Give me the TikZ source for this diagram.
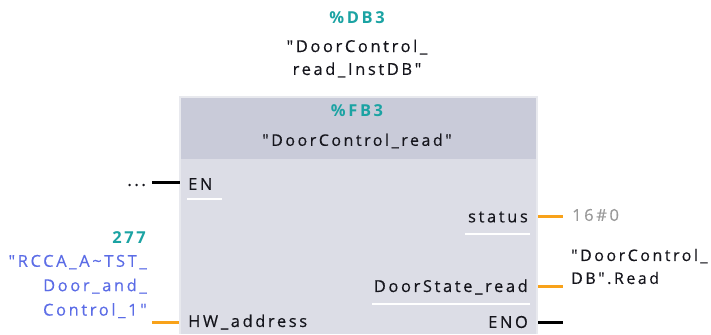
\documentclass[tikz,border=0pt]{standalone}
\usepackage{fontspec}
\defaultfontfeatures[\rmfamily,\sffamily]{}
\setmainfont{Open Sans}[LetterSpace=16, FakeBold=0.4, BoldFeatures={FakeBold=0}]
\definecolor{teal}{HTML}{1BA3A3}
\definecolor{pinblue}{HTML}{5B6CE6}
\definecolor{valgray}{HTML}{9A9A9A}
\definecolor{wireorange}{HTML}{F8A21A}
\definecolor{headgray}{HTML}{C9CBD9}
\definecolor{bodygray}{HTML}{DCDDE6}
\definecolor{edgegray}{HTML}{E8E9EE}
\definecolor{txt}{HTML}{15151C}
\tikzset{
  lbl/.style={inner sep=0pt, font=\fontsize{16.5}{23}\selectfont, text=txt},
  tealbl/.style={lbl, font=\fontsize{16.5}{23}\selectfont\bfseries, text=teal},
  owire/.style={draw=wireorange, line width=3pt},
  bwire/.style={draw=black, line width=3pt},
  uline/.style={draw=white, line width=1.3pt},
}
\begin{document}
\begin{tikzpicture}[x=1bp,y=-1bp]
\useasboundingbox (0,0) rectangle (711,334);
% block
\fill[edgegray] (179,96) rectangle (538,334);
\fill[headgray] (181,98) rectangle (536,159);
\fill[bodygray] (181,159) rectangle (536,334);
% header texts
\node[tealbl] (db) at (357,18) {\%DB3};
\node[lbl, align=center, font=\fontsize{16.5}{23}\selectfont] (dbname) at (357,58.5) {"DoorControl\_\\read\_InstDB"};
\node[tealbl] (fb) at (357,111) {\%FB3};
\node[lbl, font=\fontsize{16}{23}\selectfont] (fbname) at (357,141) {"DoorControl\_read"};
% pins
\node[lbl, anchor=west] (en) at (188,184) {EN};
\node[lbl, anchor=west] (hw) at (188,322) {HW\_address};
\node[lbl, anchor=east] (status) at (528,217) {status};
\node[lbl, anchor=east] (dsr) at (528,287) {DoorState\_read};
\node[lbl, anchor=east] (eno) at (528,322) {ENO};
% underlines
\draw[uline] (187,199) -- (222,199);
\draw[uline] (465,234) -- (530,234);
\draw[uline] (372,304) -- (530,304);
% wire end coordinates
\coordinate (enL) at (152,182);
\coordinate (enR) at (180,182);
\coordinate (hwL) at (152,322);
\coordinate (hwR) at (179,322);
\coordinate (stL) at (538,216);
\coordinate (stR) at (563,216);
\coordinate (dsL) at (538,286);
\coordinate (dsR) at (563,286);
\coordinate (enoL) at (538,322);
\coordinate (enoR) at (563,322);
\draw[bwire] (enL) -- (enR);
\draw[owire] (hwL) -- (hwR);
\draw[owire] (stL) -- (stR);
\draw[owire] (dsL) -- (dsR);
\draw[bwire] (enoL) -- (enoR);
% values
\node[lbl, anchor=east, text=txt] (dots) at (146,185) {...};
\node[tealbl, anchor=east] (n277) at (146,238) {277};
\node[lbl, anchor=east, align=right, text=pinblue, font=\fontsize{16.5}{24.5}\selectfont] (hwval) at (147,286.5) {"RCCA\_A\textasciitilde TST\_\\Door\_and\_\\Control\_1"};
\node[lbl, anchor=west, text=valgray] (stval) at (572,215) {16\#0};
\node[lbl, anchor=west, align=left, font=\fontsize{16}{23}\selectfont] (dsval) at (571,266.5) {"DoorControl\_\\DB".Read};
\end{tikzpicture}
\end{document}
